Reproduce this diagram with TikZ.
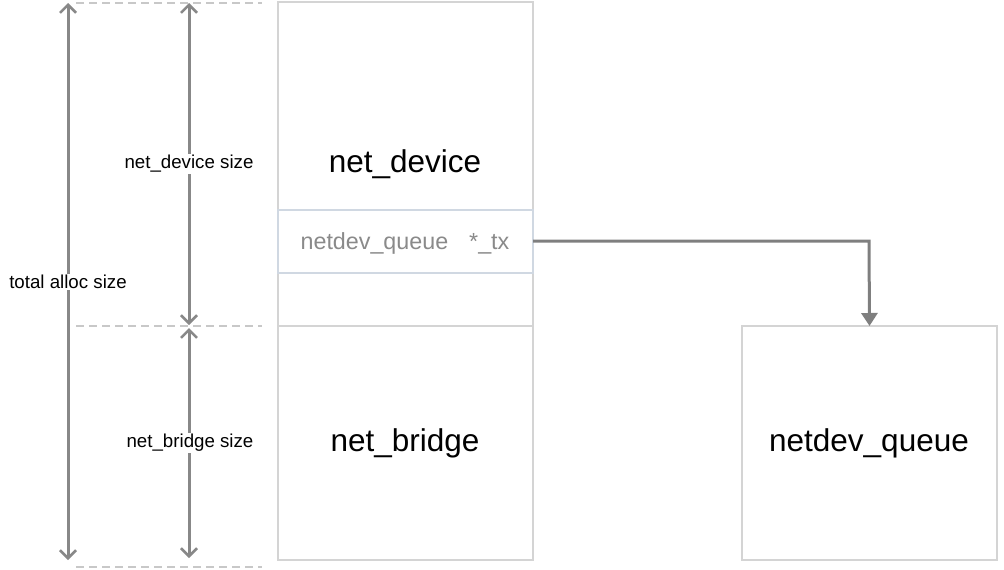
\documentclass[tikz,border=0pt]{standalone}
\usepackage{fontspec}
\setmainfont{Liberation Sans}
\usetikzlibrary{arrows.meta}
\definecolor{boxline}{HTML}{D4D4D4}
\definecolor{rowline}{HTML}{D0D8E2}
\definecolor{dimgray}{HTML}{888888}
\definecolor{arrgray}{HTML}{7F7F7F}
\definecolor{dashgray}{HTML}{C8C8C8}
\definecolor{txtgray}{HTML}{8A8A8A}
\begin{document}
\begin{tikzpicture}[x=1pt,y=-1pt,
  box/.style={draw=boxline,line width=1.2pt,fill=white,inner sep=0pt,outer sep=0pt},
  bigtxt/.style={font=\fontsize{31.5}{34}\selectfont,text=black,inner sep=0pt},
  smalltxt/.style={font=\fontsize{18.7}{21}\selectfont,text=black,fill=white,inner sep=1pt},
  dimline/.style={draw=dimgray,line width=3pt,{Straight Barb[length=8pt,width=16pt,line width=2.5pt]}-{Straight Barb[length=8pt,width=16pt,line width=2.5pt]}},
  guide/.style={draw=dashgray,line width=1.5pt,dash pattern=on 8pt off 5pt}
]
\useasboundingbox (0,0) rectangle (1004,570);
% boxes
\node[box,anchor=north west,minimum width=255pt,minimum height=324pt] (dev) at (278,2) {};
\node[box,anchor=north west,minimum width=255pt,minimum height=234pt] (br) at (278,326) {};
\node[box,draw=rowline,anchor=north west,minimum width=255pt,minimum height=63pt] (row) at (278,210) {};
\node[box,anchor=north west,minimum width=255pt,minimum height=234pt] (q) at (742,326) {};
% texts
\node[bigtxt] (devt) at (405,164) {net\_device};
\node[bigtxt] (brt) at (405,443) {net\_bridge};
\node[bigtxt] (qt) at (869,443) {netdev\_queue};
\node[font=\fontsize{23.3}{26}\selectfont,text=txtgray,inner sep=0pt] (rowt) at (405,243) {netdev\_queue\hspace{0.9em}*\_tx};
% guides
\coordinate (g1a) at (76,3); \coordinate (g1b) at (262,3);
\coordinate (g2a) at (76,326); \coordinate (g2b) at (262,326);
\coordinate (g3a) at (76,567); \coordinate (g3b) at (262,567);
\draw[guide] (g1a) -- (g1b);
\draw[guide] (g2a) -- (g2b);
\draw[guide] (g3a) -- (g3b);
% dimension arrows
\coordinate (t1) at (68,3); \coordinate (t2) at (68,560);
\coordinate (d1) at (189,3); \coordinate (d2) at (189,325);
\coordinate (b1) at (189,328); \coordinate (b2) at (189,558);
\draw[dimline] (t1) -- (t2);
\draw[dimline] (d1) -- (d2);
\draw[dimline] (b1) -- (b2);
\node[smalltxt] (tl) at (68,282) {total alloc size};
\node[smalltxt] (dl) at (189,164) {net\_device size};
\node[smalltxt] (bl) at (190,443) {net\_bridge size};
% pointer
\draw[draw=arrgray,line width=3pt,-{Triangle[length=13pt,width=16pt]}] (row.east |- 0,241) -- (869,241) -- (q.north);
\end{tikzpicture}
\end{document}
